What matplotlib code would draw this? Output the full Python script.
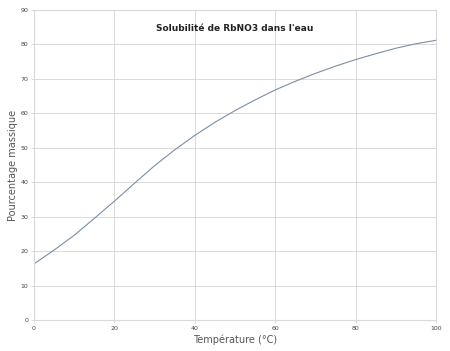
import matplotlib
matplotlib.use("Agg")
import matplotlib.pyplot as plt

# Temperature (degC) and mass percentage
temperatures = [0, 5, 10, 15, 20, 25, 30, 35, 40, 45, 50,
                55, 60, 65, 70, 75, 80, 85, 90, 95, 100]
mass_percent = [16.3, 20.3, 24.6, 29.5, 34.5, 39.7, 44.8, 49.4, 53.6, 57.4, 60.8,
                63.9, 66.8, 69.3, 71.6, 73.7, 75.6, 77.3, 78.9, 80.2, 81.2]

x_ticks = [0, 20, 40, 60, 80, 100]
y_ticks = [0, 10, 20, 30, 40, 50, 60, 70, 80, 90]

fig = plt.figure(figsize=(4.5, 3.51), dpi=100)
ax = fig.add_axes([34 / 450, 31 / 351, 402 / 450, 310 / 351])

ax.plot(temperatures, mass_percent, color="#7b8ea6", linewidth=0.8)

ax.set_xlim(0, 100)
ax.set_ylim(0, 90)
ax.set_xticks(x_ticks)
ax.set_yticks(y_ticks)
ax.tick_params(labelsize=4.5, length=2, width=0.5, color="#cccccc", labelcolor="#444444", pad=2)
ax.grid(True, color="#d4d4d4", linewidth=0.6)
for s in ax.spines.values():
    s.set_color("#d9d9d9")
    s.set_linewidth(0.8)

ax.set_xlabel("Température (°C)", fontsize=7, color="#555555", labelpad=3)
ax.set_ylabel("Pourcentage massique", fontsize=7, color="#555555", labelpad=2)
ax.text(0.5, 0.94, "Solubilité de RbNO3 dans l'eau", transform=ax.transAxes,
        ha="center", va="center", fontsize=6.5, fontweight="bold", color="#222222")

fig.savefig("out.png", dpi=100)
